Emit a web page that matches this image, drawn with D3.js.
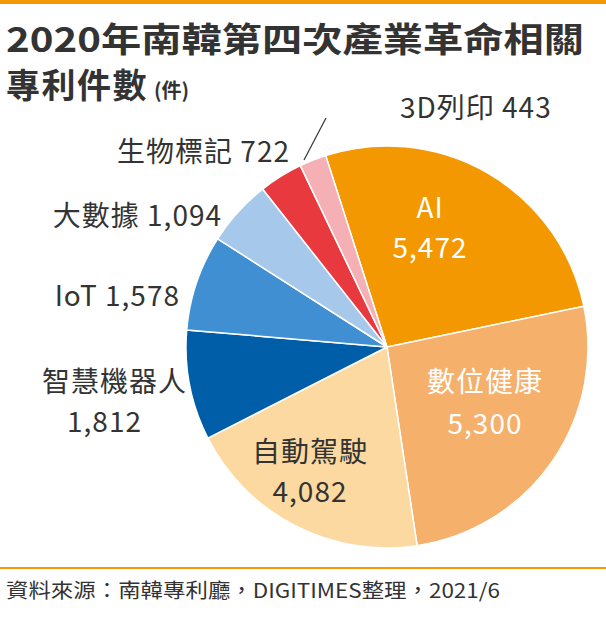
<!DOCTYPE html>
<html><head><meta charset="utf-8">
<script src="https://cdn.jsdelivr.net/npm/d3@7"></script>
<style>body{margin:0;background:#fff}text{font-family:"Noto Sans CJK TC","Noto Sans",sans-serif}</style>
</head><body><svg id="c" width="606" height="617"></svg>
<script>
// Data -----------------------
const categories = ["AI","數位健康","自動駕駛","智慧機器人","IoT","大數據","生物標記","3D列印"];
const values = [5472,5300,4082,1812,1578,1094,722,443];
const colors = ["#f39800","#f5b06b","#fcd9a0","#005ea8","#3f8fd2","#a6c8ea","#e83a3e","#f4b0b5"];

const svg = d3.select("#c");
const cx = 387, cy = 347, r = 201;
const fmt = d3.format(",");

svg.append("rect").attr("width",606).attr("height",4).attr("fill","#f39800");

// Title
svg.append("text").attr("x",6).attr("y",52).attr("font-weight","bold").attr("fill","#333")
  .attr("font-size",34).attr("textLength",578).attr("lengthAdjust","spacingAndGlyphs")
  .text("2020年南韓第四次產業革命相關");
const t2 = svg.append("text").attr("x",6).attr("y",98).attr("font-weight","bold").attr("fill","#333");
t2.append("tspan").attr("font-size",34).attr("letter-spacing",1.5).text("專利件數");
t2.append("tspan").attr("font-size",20).attr("dx",6).text("(件)");

// Pie
const pie = d3.pie().sort(null).startAngle(-0.31).endAngle(-0.31 + 2*Math.PI);
const arc = d3.arc().innerRadius(0).outerRadius(r);
const arcs = pie(values);
const g = svg.append("g").attr("transform",`translate(${cx},${cy})`);
g.selectAll("path").data(arcs).join("path")
  .attr("d",arc).attr("fill",(d,i)=>colors[i]).attr("stroke","#fff").attr("stroke-width",1.5);

// Labels
const lab = [
  {x:430,y:218,l:["AI",fmt(values[0])],fill:"#fff",a:"middle",dy:40},
  {x:485,y:392,l:[categories[1],fmt(values[1])],fill:"#fff",a:"middle",dy:42},
  {x:310,y:462,l:[categories[2],fmt(values[2])],fill:"#333",a:"middle",dy:40},
  {x:187,y:392,l:[categories[3]],fill:"#333",a:"end",dy:40},
  {x:142,y:432,l:[fmt(values[3])],fill:"#333",a:"end",dy:40},
  {x:180,y:306,l:[categories[4]+" "+fmt(values[4])],fill:"#333",a:"end"},
  {x:222,y:226,l:[categories[5]+" "+fmt(values[5])],fill:"#333",a:"end"},
  {x:290,y:162,l:[categories[6]+" "+fmt(values[6])],fill:"#333",a:"end"},
  {x:400,y:118,l:[categories[7]+" "+fmt(values[7])],fill:"#333",a:"start"}
];
lab.forEach(o=>{
  o.l.forEach((s,k)=>svg.append("text").attr("x",o.x).attr("y",o.y+k*(o.dy||0))
    .attr("text-anchor",o.a).attr("font-size",28).attr("letter-spacing",1)
    .attr("fill",o.fill).text(s));
});
svg.append("line").attr("x1",304).attr("y1",160).attr("x2",326).attr("y2",118)
  .attr("stroke","#333").attr("stroke-width",1.2);

// Source
svg.append("line").attr("x1",0).attr("x2",606).attr("y1",568).attr("y2",568).attr("stroke","#f39800").attr("stroke-width",2);
svg.append("text").attr("x",6).attr("y",598).attr("font-size",20).attr("fill","#333")
  .attr("textLength",494).attr("lengthAdjust","spacingAndGlyphs")
  .text("資料來源：南韓專利廳，DIGITIMES整理，2021/6");
</script></body></html>
